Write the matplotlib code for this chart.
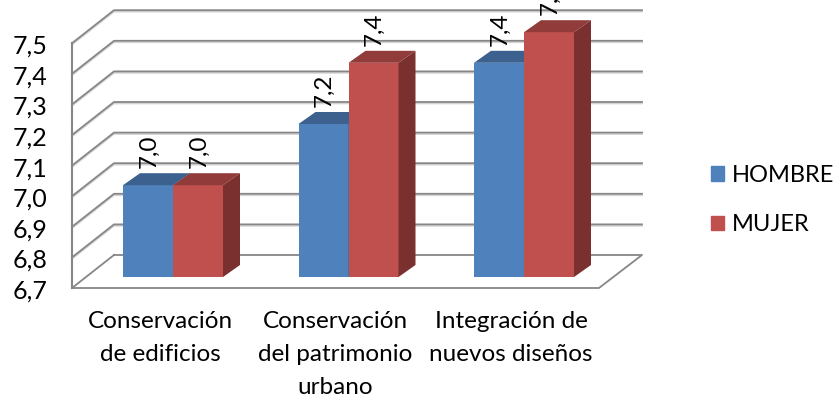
import matplotlib
matplotlib.use("Agg")
import matplotlib.pyplot as plt
from matplotlib.patches import Patch

plt.rcParams['font.family'] = ['Lato', 'DejaVu Sans']

categories = ["Conservación\nde edificios", "Conservación\ndel patrimonio\nurbano", "Integración de\nnuevos diseños"]
hombre = [7.0, 7.2, 7.4]
mujer = [7.0, 7.4, 7.5]
y_ticks = [6.7, 6.8, 6.9, 7.0, 7.1, 7.2, 7.3, 7.4, 7.5]

# pixel scale of the picture
PX_PER_CAT = 175.5
PX_PER_UNIT = 306
BASE = 6.7

def px_x(p):
    return (p - 173) / PX_PER_CAT

def dy(p):
    return p / PX_PER_UNIT

fig = plt.figure(figsize=(8.34, 3.98), dpi=100)
ax = fig.add_axes([0, 0, 1, 1])
ax.set_xlim(px_x(0), px_x(834))
ax.set_ylim(BASE - dy(398 - 288), BASE + dy(288))
ax.axis('off')

grid = '#868686'
shadow = '#d4d4d4'
wall_lift = dy(33)
for t in y_ticks:
    xs = [px_x(72), px_x(114), px_x(642)]
    ys = [t, t + wall_lift, t + wall_lift]
    if t == BASE:
        ax.plot([px_x(114), px_x(642), px_x(599), px_x(72)],
                [t + wall_lift, t + wall_lift, t, t], color=grid, lw=1.3, zorder=2)
        ax.plot(xs[:2], ys[:2], color=grid, lw=1.3, zorder=2)
    else:
        ax.plot(xs, [y - dy(1.5) for y in ys], color=shadow, lw=1.2, zorder=1)
        ax.plot(xs, ys, color=grid, lw=1.3, zorder=2)
    ax.text(px_x(47), t - dy(3), f"{t:.1f}".replace('.', ','), ha='right', va='center', fontsize=18, color='black')
ax.plot([px_x(72), px_x(72)], [BASE, y_ticks[-1]], color=grid, lw=1.5, zorder=2)

bar_w = 50 / PX_PER_CAT
lift = dy(11)
ddx = 17 / PX_PER_CAT
ddy = dy(12)


def draw_bar(x, v, front, top, side):
    ax.bar(x, v - BASE, bottom=BASE + lift, width=bar_w, align='edge', color=front, zorder=3)
    y0, y1 = BASE + lift, v + lift
    ax.fill([x, x + bar_w, x + bar_w + ddx, x + ddx], [y1, y1, y1 + ddy, y1 + ddy], color=top, lw=0, zorder=3)
    ax.fill([x + bar_w, x + bar_w + ddx, x + bar_w + ddx, x + bar_w],
            [y0, y0 + ddy, y1 + ddy, y1], color=side, lw=0, zorder=3)
    ax.text(x + bar_w / 2 + 1 / PX_PER_CAT, y1 + dy(17), f"{v:.1f}".replace('.', ','), rotation=90,
            ha='center', va='bottom', fontsize=17.5, color='black', zorder=4)


for i in range(len(categories)):
    draw_bar(i - bar_w, hombre[i], '#4F81BD', '#3C618F', '#3C618F')
    draw_bar(i, mujer[i], '#C0504D', '#913C3A', '#7A302E')
    ax.text(i - 13 / PX_PER_CAT, BASE - dy(23), categories[i], ha='center', va='top',
            fontsize=17.5, linespacing=1.72, color='black')

handles = [Patch(color='#4F81BD', label='HOMBRE'), Patch(color='#C0504D', label='MUJER')]
ax.legend(handles=handles, loc='center left', bbox_to_anchor=(711 / 834, 1 - 200 / 398), frameon=False,
          fontsize=17, handlelength=0.55, handleheight=0.55, handletextpad=0.35,
          labelspacing=1.2, borderpad=0, borderaxespad=0)

plt.savefig('out.png', dpi=100)
